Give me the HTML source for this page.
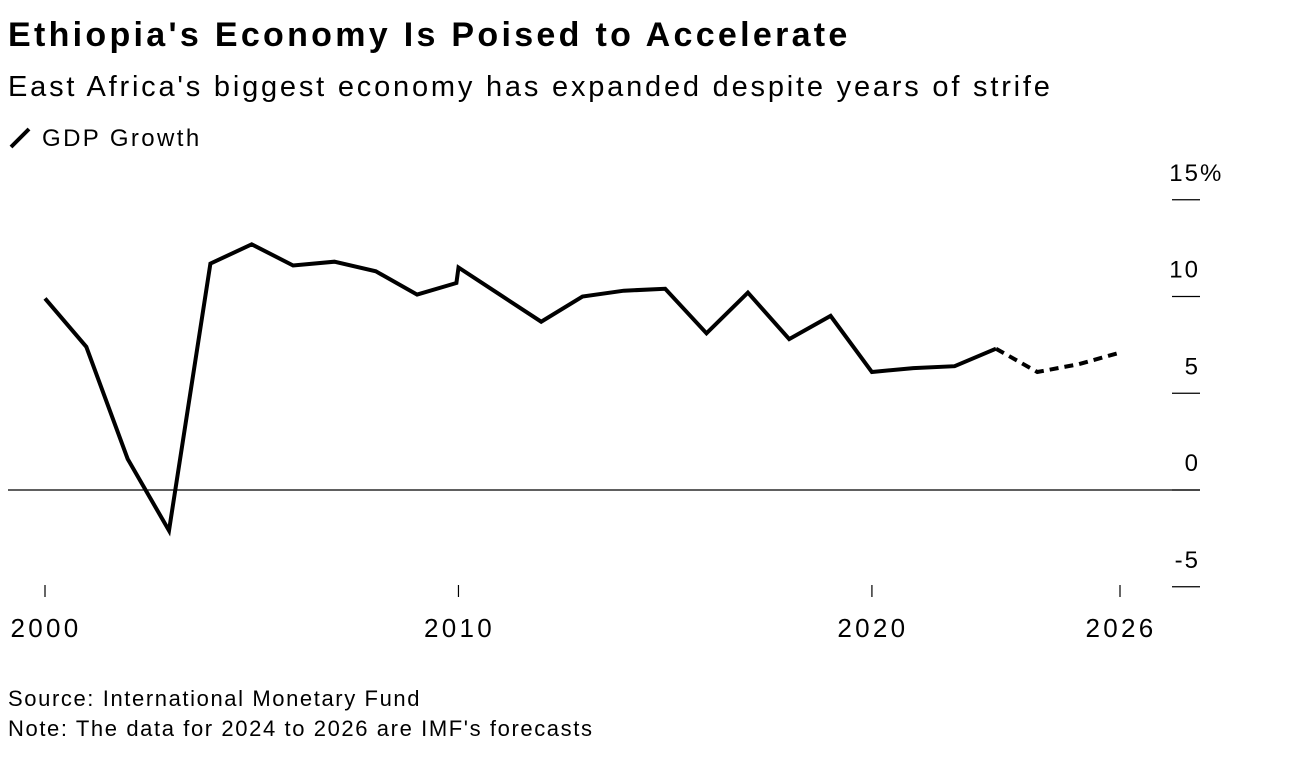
<!DOCTYPE html>
<html><head><meta charset="utf-8">
<style>
body{margin:0;width:1292px;height:768px;background:#fff;font-family:"Liberation Sans",Arial,sans-serif;color:#000;overflow:hidden;position:relative}
.t{position:absolute;white-space:nowrap}
</style></head><body>
<div class="t" style="left:8px;top:16px;font-size:34px;font-weight:bold;letter-spacing:3.3px">Ethiopia's Economy Is Poised to Accelerate</div>
<div class="t" style="left:8px;top:71px;font-size:29px;letter-spacing:2.8px">East Africa's biggest economy has expanded despite years of strife</div>
<div class="t" style="left:8px;top:124px;font-size:24px;letter-spacing:2.4px"><svg width="26" height="26" style="vertical-align:-4px;margin-right:8px"><line x1="3" y1="23" x2="21" y2="5" stroke="#000" stroke-width="4"/></svg>GDP Growth</div>
<svg id="chart" width="1292" height="768" style="position:absolute;left:0;top:0"></svg>
<div class="t" style="left:8px;top:686px;font-size:22px;letter-spacing:1.6px">Source: International Monetary Fund</div>
<div class="t" style="left:8px;top:716px;font-size:22px;letter-spacing:1.6px">Note: The data for 2024 to 2026 are IMF's forecasts</div>
<script>
const years=[2000,2001,2002,2003,2004,2005,2006,2007,2008,2009,2009.95,2010,2011,2012,2013,2014,2015,2016,2017,2018,2019,2020,2021,2022,2023,2024,2025,2026];
const growth=[9.9,7.4,1.6,-2.1,11.7,12.7,11.6,11.8,11.3,10.1,10.7,11.5,10.1,8.7,10.0,10.3,10.4,8.1,10.2,7.8,9.0,6.1,6.3,6.4,7.3,6.1,6.5,7.1];
const forecastStart=2023;
const yTicks=[15,10,5,0,-5];
const yTickLabels=["15","10","5","0","-5"];
const xTicks=[2000,2010,2020,2026];
const NS="http://www.w3.org/2000/svg";
const svg=document.getElementById('chart');
const X=v=>45+(v-2000)*(1120-45)/26;
const Y=v=>490-v*19.35;
function mk(tag,attrs){const e=document.createElementNS(NS,tag);for(const k in attrs)e.setAttribute(k,attrs[k]);svg.appendChild(e);return e;}
yTicks.forEach((t,i)=>{
 const l=mk('line',{x1:1172,x2:1200,y1:Y(t),y2:Y(t),stroke:'#000','stroke-width':1.2});
 
 
 const tx=mk('text',{x:1200,y:Y(t)-19,'text-anchor':'end','font-size':24,'letter-spacing':2,'font-family':'Liberation Sans, sans-serif'});
 tx.textContent=yTickLabels[i];
 
 
});
const pc=mk('text',{x:1200,y:Y(15)-19,'font-size':24,'font-family':'Liberation Sans, sans-serif'});
pc.textContent='%';


const z=mk('line',{x1:8,x2:1200,y1:Y(0),y2:Y(0),stroke:'#000','stroke-width':1.2});


xTicks.forEach(t=>{
 const l=mk('line',{x1:X(t),x2:X(t),y1:585,y2:597,stroke:'#000','stroke-width':1.2});
 
 
 const tx=mk('text',{x:X(t)+1,y:637,'text-anchor':'middle','font-size':26,'letter-spacing':3.3,'font-family':'Liberation Sans, sans-serif'});
 tx.textContent=t;
 
 
});
let a=[],b=[];
years.forEach((y,i)=>{const p=X(y).toFixed(1)+','+Y(growth[i]).toFixed(1);if(y<=forecastStart)a.push(p);if(y>=forecastStart)b.push(p);});
const p1=mk('polyline',{points:a.join(' '),fill:'none',stroke:'#000','stroke-width':4,'stroke-linejoin':'miter'});


const p2=mk('polyline',{points:b.join(' '),fill:'none',stroke:'#000','stroke-width':4,'stroke-dasharray':'9 6'});


</script>
</body></html>
